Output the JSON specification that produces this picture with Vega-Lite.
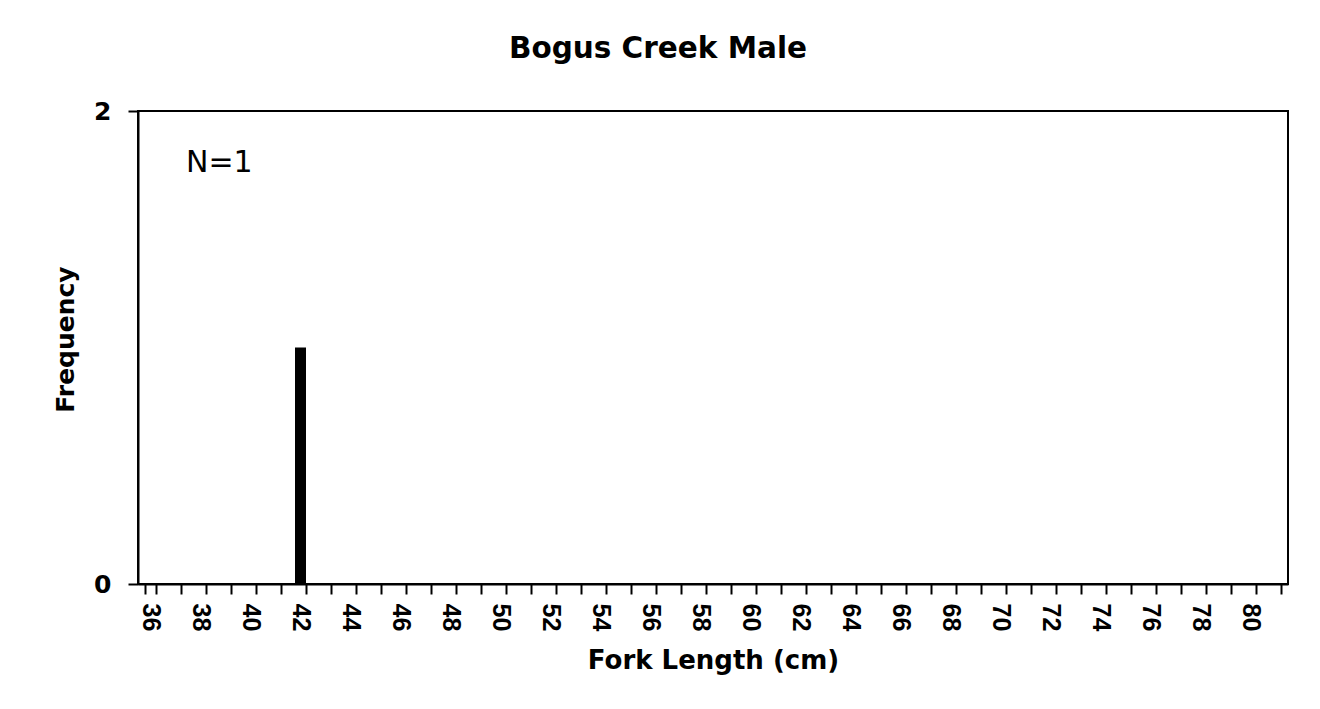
{
  "$schema": "https://vega.github.io/schema/vega-lite/v6.json",
  "width": 1150,
  "height": 473,
  "autosize": {"type": "none"},
  "padding": {"left": 138, "top": 111, "right": 32, "bottom": 125},
  "background": "white",
  "title": {
    "text": "Bogus Creek Male",
    "font": "DejaVu Sans",
    "fontSize": 29.5,
    "fontWeight": "bold",
    "color": "black",
    "anchor": "middle",
    "frame": "group",
    "dx": -55,
    "baseline": "alphabetic",
    "offset": 12
  },
  "config": {
    "view": {"stroke": "black", "strokeWidth": 2},
    "axis": {"grid": false, "domainColor": "black", "domainWidth": 2, "tickColor": "black", "tickWidth": 2}
  },
  "data": {
    "values": [
      {"bin": 36, "freq": 0}, {"bin": 37, "freq": 0}, {"bin": 38, "freq": 0}, {"bin": 39, "freq": 0},
      {"bin": 40, "freq": 0}, {"bin": 41, "freq": 0}, {"bin": 42, "freq": 1}, {"bin": 43, "freq": 0},
      {"bin": 44, "freq": 0}, {"bin": 45, "freq": 0}, {"bin": 46, "freq": 0}, {"bin": 47, "freq": 0},
      {"bin": 48, "freq": 0}, {"bin": 49, "freq": 0}, {"bin": 50, "freq": 0}, {"bin": 51, "freq": 0},
      {"bin": 52, "freq": 0}, {"bin": 53, "freq": 0}, {"bin": 54, "freq": 0}, {"bin": 55, "freq": 0},
      {"bin": 56, "freq": 0}, {"bin": 57, "freq": 0}, {"bin": 58, "freq": 0}, {"bin": 59, "freq": 0},
      {"bin": 60, "freq": 0}, {"bin": 61, "freq": 0}, {"bin": 62, "freq": 0}, {"bin": 63, "freq": 0},
      {"bin": 64, "freq": 0}, {"bin": 65, "freq": 0}, {"bin": 66, "freq": 0}, {"bin": 67, "freq": 0},
      {"bin": 68, "freq": 0}, {"bin": 69, "freq": 0}, {"bin": 70, "freq": 0}, {"bin": 71, "freq": 0},
      {"bin": 72, "freq": 0}, {"bin": 73, "freq": 0}, {"bin": 74, "freq": 0}, {"bin": 75, "freq": 0},
      {"bin": 76, "freq": 0}, {"bin": 77, "freq": 0}, {"bin": 78, "freq": 0}, {"bin": 79, "freq": 0},
      {"bin": 80, "freq": 0}, {"bin": 81, "freq": 0}
    ]
  },
  "layer": [
    {
      "mark": {"type": "bar", "color": "black"},
      "encoding": {
        "x": {
          "field": "bin",
          "type": "ordinal",
          "sort": "ascending",
          "scale": {"paddingInner": 0.56, "paddingOuter": 0.28},
          "axis": {
            "title": "Fork Length (cm)",
            "titleFont": "DejaVu Sans",
            "titleFontSize": 26,
            "titleFontWeight": "bold",
            "titleColor": "black",
            "titleBaseline": "alphabetic",
            "titleY": 84,
            "labelAngle": 90,
            "labelAlign": "left",
            "labelBaseline": "middle",
            "labelFont": "Liberation Sans",
            "labelFontSize": 25,
            "labelFontWeight": "bold",
            "labelColor": "black",
            "labelPadding": 9,
            "tickBand": "extent",
            "tickSize": 10,
            "labelExpr": "datum.value % 2 == 0 ? datum.label : ''"
          }
        },
        "y": {
          "field": "freq",
          "type": "quantitative",
          "scale": {"domain": [0, 2], "nice": false},
          "axis": {
            "title": "Frequency",
            "titleFont": "DejaVu Sans",
            "titleFontSize": 25,
            "titleFontWeight": "bold",
            "titleColor": "black",
            "titleAngle": -90,
            "titleBaseline": "middle",
            "titleAlign": "center",
            "titleX": -73,
            "titleY": 228,
            "values": [0, 2],
            "format": "d",
            "labelFont": "DejaVu Sans",
            "labelFontSize": 25,
            "labelFontWeight": "bold",
            "labelColor": "black",
            "labelPadding": 17,
            "tickSize": 10
          }
        }
      }
    },
    {
      "data": {"values": [{"note": "N=1"}]},
      "mark": {"type": "text", "align": "left", "baseline": "alphabetic", "font": "DejaVu Sans", "fontSize": 30, "color": "black", "dx": -9},
      "encoding": {
        "x": {"datum": 38, "type": "ordinal", "bandPosition": 0},
        "y": {"datum": 1.74, "type": "quantitative"},
        "text": {"field": "note"}
      }
    }
  ]
}
